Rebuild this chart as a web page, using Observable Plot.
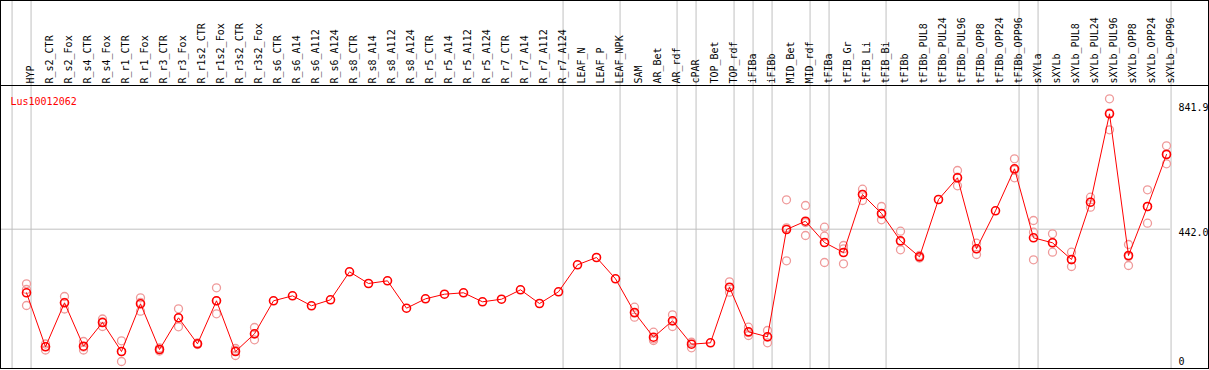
<!DOCTYPE html>
<html><head><meta charset="utf-8">
<script src="https://cdn.jsdelivr.net/npm/d3@7"></script>
<script src="https://cdn.jsdelivr.net/npm/@observablehq/plot@0.6"></script>
<style>
html,body{margin:0;padding:0;background:#fff;}
#box{position:absolute;left:0;top:0;width:1207px;height:367px;border:1px solid #000;overflow:hidden;background:#fff;}
#sep{position:absolute;left:0;top:84px;width:1207px;height:1px;background:#000;}
</style></head><body>
<div id="box"><div id="chart"></div><div id="sep"></div></div>
<script>
const title = "Lus10012062";
const categories = ["HYP","R_s2_CTR","R_s2_Fox","R_s4_CTR","R_s4_Fox","R_r1_CTR","R_r1_Fox","R_r3_CTR","R_r3_Fox",
  "R_r1s2_CTR","R_r1s2_Fox","R_r3s2_CTR","R_r3s2_Fox","R_s6_CTR","R_s6_A14","R_s6_A112","R_s6_A124",
  "R_s8_CTR","R_s8_A14","R_s8_A112","R_s8_A124","R_r5_CTR","R_r5_A14","R_r5_A112","R_r5_A124",
  "R_r7_CTR","R_r7_A14","R_r7_A112","R_r7_A124","LEAF_N","LEAF_P","LEAF_NPK","SAM","AR_Bet","AR_rdf",
  "cPAR","TOP_Bet","TOP_rdf","iFIBa","iFIBb","MID_Bet","MID_rdf","tFIBa","tFIB_Gr","tFIB_Li","tFIB_Bi",
  "tFIBb","tFIBb_PUL8","tFIBb_PUL24","tFIBb_PUL96","tFIBb_OPP8","tFIBb_OPP24","tFIBb_OPP96",
  "sXYLa","sXYLb","sXYLb_PUL8","sXYLb_PUL24","sXYLb_PUL96","sXYLb_OPP8","sXYLb_OPP24","sXYLb_OPP96"];
const means = [238.0,64.8,205.9,66.7,142.7,49.7,202.7,56.1,157.8,74.4,212.3,49.7,106.5,
  212.3,228.3,196.3,215.5,305.3,267.8,276.4,188.6,218.7,233.5,238.0,209.1,217.4,247.6,203.6,241.2,
  327.8,351.2,282.9,174.8,95.6,148.2,73.1,77.6,255.9,112.9,96.9,441.0,467.6,399.3,367.2,553.2,492.3,
  404.7,353.4,537.2,606.8,379.1,500.9,635.6,414.3,398.3,344.8,528.5,812.0,357.6,514.7,681.5];
const replicates = [
  [266.8,248.5,197.2],[73.8,65.7,54.5],[226.1,206.9,186.0],[81.8,64.1,54.5],[153.9,144.3,129.9],
  [84.0,49.7,17.6],[221.9,206.9,178.9],[60.9,56.1,51.3],[186.6,157.8,128.9],[77.0,74.4,72.2],
  [254.0,212.3,170.6],[59.3,52.9,36.9],[126.7,105.8,87.2],
  [],[],[],[],[],[],[],[],[],[],[],[],[],[],[],[],[],[],[],
  [191.8,172.9,159.7],[111.6,90.2,85.0],[167.4,147.3,129.9],[79.5,78.2,61.6],[],
  [273.2,254.6,239.9],[127.6,110.1,101.0],[117.1,96.0,77.6],[536.2,446.2,340.6],[517.9,463.2,421.7],
  [448.3,419.5,335.1],[389.6,379.1,331.0],[570.2,553.2,534.0],[514.7,490.0,472.1],[435.5,402.5,375.9],
  [357.6,353.0,349.6],[],[630.2,609.0,581.1],[397.0,379.5,360.8],[],[667.7,632.0,606.8],
  [469.8,432.3,343.8],[427.2,399.5,368.2],[368.2,344.0,322.3],[544.5,528.5,512.5],[860.1,815.0,760.7],
  [392.9,354.4,325.5],[568.3,514.6,461.2],[709.4,683.4,651.7]];
const groupEnds = [-1, 0, 28, 31, 34, 35, 37, 38, 39, 41, 42, 45, 52, 53, 60];
const yTickValues = [0, 442.0, 841.9];
const yTickLabels = ["0", "442.0", "841.9"];

const meanData = means.map((v, i) => ({i, v, name: categories[i]}));
const repData = replicates.flatMap((arr, i) => arr.map(v => ({i, v})));
const ticks = yTickValues.map((v, k) => ({v, label: yTickLabels[k]}));

const chart = Plot.plot({
  width: 1207, height: 367,
  marginTop: 0, marginBottom: 0, marginLeft: 0, marginRight: 38,
  x: {type: "linear", domain: [-1.31579, 60.2105], axis: null},
  y: {type: "linear", domain: [-4.81, 1172.2], axis: null},
  style: {fontFamily: "'DejaVu Sans Mono', monospace", fontSize: "10px", background: "transparent", overflow: "visible"},
  marks: [
    Plot.ruleX(groupEnds, {x: d => d + 0.24, stroke: "#c0c0c0", strokeWidth: 1}),
    Plot.ruleY([yTickValues[1]], {stroke: "#c0c0c0", strokeWidth: 1}),
    Plot.text(categories, {x: (d, i) => i, text: d => d, frameAnchor: "top", dy: 82, rotate: -90, textAnchor: "start", fill: "#000"}),
    Plot.text([title], {frameAnchor: "top-left", dx: 9, dy: 96, textAnchor: "start", fill: "#ff0000"}),
    Plot.text(ticks.filter(d => d.v !== 0), {y: "v", text: "label", frameAnchor: "right", dx: 8, dy: 3.3, textAnchor: "start", fill: "#000"}),
    Plot.text(ticks.filter(d => d.v === 0), {y: "v", text: "label", frameAnchor: "right", dx: 8, dy: -4.8, textAnchor: "start", fill: "#000"}),
    Plot.dot(repData, {x: "i", y: "v", r: 4, stroke: "#ef9a9a", strokeWidth: 1.3, fill: "none"}),
    Plot.line(meanData, {x: "i", y: "v", stroke: "#ff0000", strokeWidth: 1}),
    Plot.dot(meanData, {x: "i", y: "v", r: 4, stroke: "#ff0000", strokeWidth: 1.6, fill: "none"})
  ]
});
document.getElementById("chart").appendChild(chart);
</script>
</body></html>
